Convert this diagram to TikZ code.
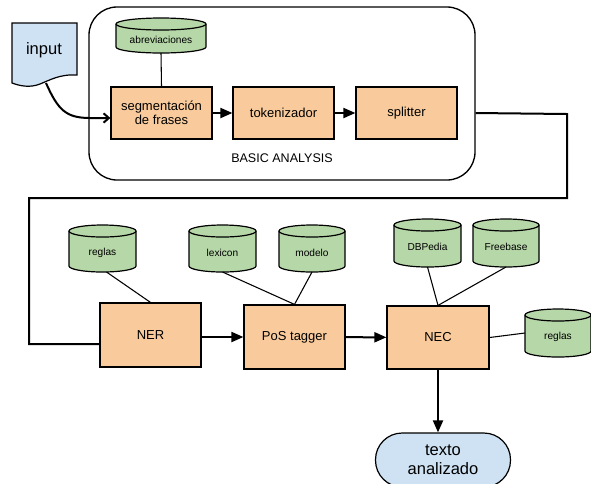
\documentclass[tikz,border=0pt]{standalone}
\usepackage{fontspec}
\setmainfont{Liberation Sans}
\usetikzlibrary{arrows.meta}
\newlength\px \setlength\px{0.75pt}
\definecolor{boxorange}{HTML}{F9CB9C}
\definecolor{dbgreen}{HTML}{B6D7A8}
\definecolor{docblue}{HTML}{CFE2F3}
\tikzset{
  proc/.style={draw=black, line width=0.9pt, fill=boxorange, minimum width=101\px, align=center, font=\fontsize{9.75}{10.5}\selectfont, inner sep=0pt},
  flow/.style={line width=1.5pt, -{Triangle[length=9pt,width=7.5pt]}},
  link/.style={line width=0.8pt},
  cyltext/.style={font=\fontsize{7.6}{9}\selectfont, inner sep=0pt},
  pics/cyl/.style n args={3}{code={
    \path[draw=black, line width=0.9pt, fill=dbgreen]
      (-#1,{#2-6}) arc[start angle=180, end angle=0, x radius=#1, y radius=6]
      -- (#1,{-#2+6}) arc[start angle=0, end angle=-180, x radius=#1, y radius=6] -- cycle;
    \draw[line width=0.9pt] (-#1,{#2-6}) arc[start angle=180, end angle=360, x radius=#1, y radius=6];
    \node[cyltext] (-txt) at (0,-4) {#3};
    \coordinate (-b) at (0,-#2);
    \coordinate (-t) at (0,#2);
    \coordinate (-l) at (-#1,0);
  }}
}
\begin{document}
\begin{tikzpicture}[x=0.75pt, y=0.75pt]
\useasboundingbox (0,0) rectangle (591,-483);

% basic analysis frame
\node[draw, line width=1pt, rounded corners=21pt, minimum width=386\px, minimum height=173\px] (basic) at (282,-93.5) {};
\node[font=\fontsize{9.4}{11}\selectfont] (basiclabel) at (282,-158) {BASIC ANALYSIS};

% input document
\path[draw=black, line width=0.9pt, fill=docblue]
  (12,-23) -- (77,-23) -- (77,-75)
  .. controls (60,-74) and (50,-80) .. (40,-84)
  .. controls (30,-88) and (20,-86) .. (12,-83) -- cycle;
\node[font=\fontsize{12.4}{14}\selectfont, inner sep=0pt] (input) at (44,-50) {input};

% first row
\node[proc, minimum height=52\px] (seg) at (161.5,-113) {segmentación\\de frases};
\node[proc, minimum height=52\px] (tok) at (283.5,-113) {tokenizador};
\node[proc, minimum height=52\px] (split) at (406.5,-113) {splitter};
\pic (abr) at (161,-35.5) {cyl={45}{17.5}{abreviaciones}};

% second row
\node[proc, minimum height=64\px] (ner) at (150.5,-335) {NER};
\node[proc, minimum height=64\px] (pos) at (294.5,-337) {PoS tagger};
\node[proc, minimum height=63\px, minimum width=102\px] (nec) at (438,-337.5) {NEC};
\node[draw=black, fill=docblue, line width=0.9pt, rounded corners=20pt, minimum width=135\px, minimum height=54\px, align=center, font=\fontsize{12.4}{14.3}\selectfont, inner sep=0pt] (out) at (443,-460) {texto\\analizado};

\pic (rg1) at (102.5,-248.5) {cyl={33.5}{23.5}{reglas}};
\pic (lex) at (222.5,-248.5) {cyl={33.5}{23.5}{lexicon}};
\pic (mod) at (312,-248.5) {cyl={33}{23.5}{modelo}};
\pic (dbp) at (427.5,-243) {cyl={33.5}{24}{DBPedia}};
\pic (frb) at (506,-243) {cyl={33}{24}{Freebase}};
\pic (rg2) at (558,-333) {cyl={33}{24}{reglas}};

% connectors
\coordinate (inb) at (46,-83);
\draw[line width=1.5pt, -{Straight Barb[length=4pt,width=7pt]}] (inb) .. controls (58,-110) and (66,-118) .. (90,-118) -- ([yshift=-3.75pt]seg.west);
\draw[link] (abr-b) -- (seg.north);
\draw[flow] (seg) -- (tok);
\draw[flow] (tok) -- (split);

\coordinate (c1) at (567,-114);
\coordinate (c2) at (567,-198);
\coordinate (c3) at (29,-198);
\coordinate (c4) at (29,-344);
\draw[line width=1.5pt] (basic.east |- split.east) -- (c1) -- (c2) -- (c3) -- (c4) -- (c4 -| ner.west);

\draw[link] ([xshift=3pt]rg1-b) -- (ner.north);
\draw[link] (lex-b) -- (pos.north);
\draw[link] (mod-b) -- (pos.north);
\draw[link] (dbp-b) -- (nec.north);
\draw[link] (frb-b) -- (nec.north);
\draw[link] (nec.east) -- (rg2-l);

\draw[flow] (ner.east |- pos.west) -- (pos.west);
\draw[flow] (pos) -- (nec);
\draw[flow] (nec.south) -- (nec.south |- out.north);
\end{tikzpicture}
\end{document}
